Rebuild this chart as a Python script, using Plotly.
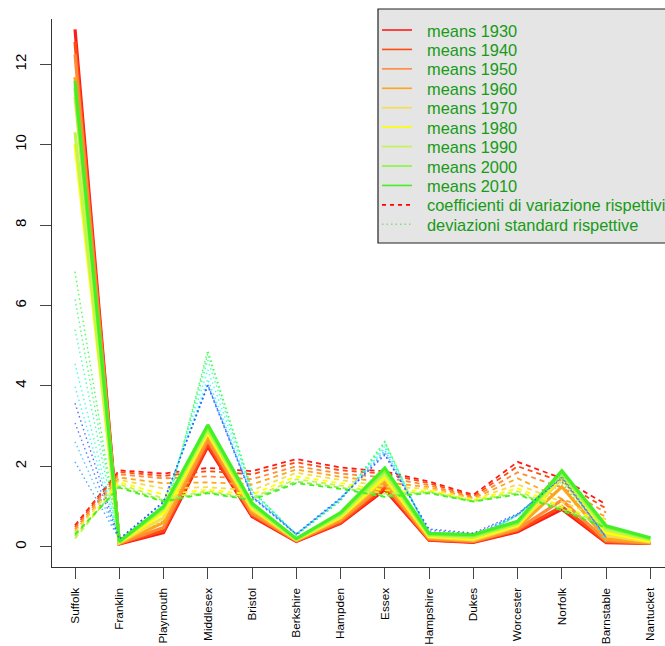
import plotly.graph_objects as go

counties = ["Suffolk", "Franklin", "Playmouth", "Middlesex", "Bristol", "Berkshire",
            "Hampden", "Essex", "Hampshire", "Dukes", "Worcester", "Norfolk",
            "Barnstable", "Nantucket"]
years = ["1930", "1940", "1950", "1960", "1970", "1980", "1990", "2000", "2010"]

# means per year (one list per year, values in county order)
means_1930 = [12.87, 0.07, 0.35, 2.49, 0.75, 0.13, 0.58, 1.42, 0.16, 0.11, 0.37, 0.93, 0.10, 0.08]
means_1940 = [12.56, 0.08, 0.40, 2.55, 0.78, 0.14, 0.60, 1.48, 0.17, 0.12, 0.40, 1.00, 0.12, 0.08]
means_1950 = [12.25, 0.08, 0.48, 2.65, 0.82, 0.15, 0.64, 1.55, 0.19, 0.13, 0.43, 1.16, 0.15, 0.09]
means_1960 = [11.68, 0.09, 0.60, 2.75, 0.88, 0.16, 0.68, 1.62, 0.21, 0.15, 0.47, 1.49, 0.20, 0.10]
means_1970 = [11.19, 0.10, 0.72, 2.82, 0.93, 0.17, 0.72, 1.70, 0.24, 0.17, 0.51, 1.70, 0.28, 0.12]
means_1980 = [10.02, 0.11, 0.85, 2.85, 0.97, 0.18, 0.75, 1.75, 0.26, 0.20, 0.54, 1.76, 0.35, 0.14]
means_1990 = [10.31, 0.12, 0.92, 2.90, 1.00, 0.18, 0.78, 1.82, 0.28, 0.23, 0.57, 1.80, 0.42, 0.17]
means_2000 = [11.40, 0.12, 0.97, 2.97, 1.05, 0.19, 0.82, 1.90, 0.31, 0.27, 0.60, 1.85, 0.48, 0.20]
means_2010 = [11.58, 0.13, 1.00, 3.03, 1.08, 0.20, 0.85, 1.96, 0.33, 0.30, 0.63, 1.89, 0.52, 0.22]

# coefficients of variation (Nantucket missing)
cv_1930 = [0.53, 1.90, 1.82, 1.96, 1.88, 2.18, 1.97, 1.87, 1.62, 1.29, 2.11, 1.70, 1.05, None]
cv_1940 = [0.49, 1.86, 1.76, 1.88, 1.80, 2.10, 1.90, 1.82, 1.58, 1.25, 2.00, 1.62, 0.95, None]
cv_1950 = [0.44, 1.80, 1.70, 1.75, 1.68, 2.00, 1.82, 1.72, 1.53, 1.22, 1.85, 1.47, 0.85, None]
cv_1960 = [0.39, 1.72, 1.58, 1.60, 1.55, 1.92, 1.74, 1.60, 1.48, 1.20, 1.70, 1.19, 0.75, None]
cv_1970 = [0.36, 1.66, 1.45, 1.48, 1.40, 1.84, 1.66, 1.50, 1.44, 1.18, 1.55, 1.11, 0.68, None]
cv_1980 = [0.26, 1.60, 1.30, 1.42, 1.30, 1.75, 1.58, 1.40, 1.40, 1.16, 1.45, 1.01, 0.60, None]
cv_1990 = [0.20, 1.55, 1.20, 1.38, 1.22, 1.68, 1.52, 1.32, 1.37, 1.14, 1.38, 0.97, 0.55, None]
cv_2000 = [0.27, 1.50, 1.15, 1.35, 1.18, 1.62, 1.47, 1.27, 1.35, 1.13, 1.33, 0.93, 0.50, None]
cv_2010 = [0.31, 1.47, 1.12, 1.33, 1.16, 1.58, 1.44, 1.24, 1.33, 1.12, 1.30, 0.90, 0.47, None]

# standard deviations (Nantucket missing)
sd_1930 = [6.84, 0.13, 0.64, 4.88, 1.41, 0.28, 1.14, 2.62, 0.26, 0.14, 0.78, 1.58, 0.11, None]
sd_1940 = [6.15, 0.15, 0.70, 4.80, 1.40, 0.29, 1.14, 2.60, 0.27, 0.15, 0.80, 1.62, 0.11, None]
sd_1950 = [5.40, 0.14, 0.82, 4.64, 1.38, 0.30, 1.16, 2.55, 0.29, 0.16, 0.80, 1.70, 0.13, None]
sd_1960 = [4.55, 0.15, 0.95, 4.40, 1.36, 0.31, 1.18, 2.50, 0.31, 0.18, 0.80, 1.78, 0.15, None]
sd_1970 = [3.98, 0.17, 1.04, 4.17, 1.30, 0.31, 1.20, 2.45, 0.35, 0.20, 0.79, 1.80, 0.19, None]
sd_1980 = [2.61, 0.18, 1.10, 4.05, 1.26, 0.31, 1.18, 2.40, 0.36, 0.23, 0.78, 1.78, 0.21, None]
sd_1990 = [2.11, 0.19, 1.10, 4.00, 1.22, 0.30, 1.19, 2.35, 0.38, 0.26, 0.79, 1.75, 0.23, None]
sd_2000 = [3.08, 0.18, 1.12, 4.01, 1.24, 0.31, 1.20, 2.30, 0.42, 0.31, 0.80, 1.72, 0.24, None]
sd_2010 = [3.57, 0.19, 1.12, 4.03, 1.25, 0.32, 1.22, 2.28, 0.44, 0.34, 0.82, 1.70, 0.24, None]

y_ticks = [0, 2, 4, 6, 8, 10, 12]
legend_labels = ["means " + y for y in years] + ["coefficienti di variazione rispettivi",
                                                  "deviazioni standard rispettive"]

means = [means_1930, means_1940, means_1950, means_1960, means_1970,
         means_1980, means_1990, means_2000, means_2010]
cvs = [cv_1930, cv_1940, cv_1950, cv_1960, cv_1970, cv_1980, cv_1990, cv_2000, cv_2010]
sds = [sd_1930, sd_1940, sd_1950, sd_1960, sd_1970, sd_1980, sd_1990, sd_2000, sd_2010]

mean_cols = ["#FF1A1A", "#FF4A10", "#FF8A3A", "#FFA51A", "#F5DC50",
             "#FFFF00", "#C2F550", "#8AF540", "#44F025"]
sd_cols = ["#33FF33", "#33FF70", "#33FFA8", "#33FFD8", "#33F0FF",
           "#33C8FF", "#3399FF", "#3370FF", "#3355FF"]

W, H = 665, 646
L, R, T, B = 52, 0, 19, 79
pw, ph = W - L - R, H - T - B
xs = list(range(1, len(counties) + 1))

fig = go.Figure()
for i in range(len(years)):
    fig.add_trace(go.Scatter(x=xs, y=means[i], mode="lines", showlegend=False,
                             line=dict(color=mean_cols[i], width=3.2), name="means " + years[i]))
    fig.add_trace(go.Scatter(x=xs, y=cvs[i], mode="lines", showlegend=False,
                             line=dict(color=mean_cols[i], width=1.8, dash="5px,4px"),
                             name="cv " + years[i]))
    fig.add_trace(go.Scatter(x=xs, y=sds[i], mode="lines", showlegend=False, opacity=0.85,
                             line=dict(color=sd_cols[i], width=1.4, dash="1.5px,3px"),
                             name="sd " + years[i]))


def px_x(p):
    return (p - L) / pw


def px_y(p):
    return (H - B - p) / ph


shapes = []
annotations = []
# legend box
shapes.append(dict(type="rect", xref="paper", yref="paper", x0=px_x(378), x1=px_x(720),
                   y0=px_y(243), y1=px_y(9), fillcolor="#E5E5E5",
                   line=dict(color="#222222", width=1.2), layer="above"))
leg_cols = mean_cols + ["#FF0000", "#7FE07F"]
leg_dash = ["solid"] * 9 + ["4px,4px", "1.5px,3px"]
for k, lab in enumerate(legend_labels):
    yy = 30 + k * 19.43
    shapes.append(dict(type="line", xref="paper", yref="paper", x0=px_x(382), x1=px_x(412),
                       y0=px_y(yy), y1=px_y(yy),
                       line=dict(color=leg_cols[k], width=1.6, dash=leg_dash[k]), layer="above"))
    annotations.append(dict(xref="paper", yref="paper", x=px_x(425), y=px_y(yy + 0.5),
                            xanchor="left", yanchor="middle", text=lab, showarrow=False,
                            font=dict(family="Liberation Sans, Arial", size=16.4, color="#169B16")))

fig.update_layout(
    width=W, height=H, margin=dict(l=L, r=R, t=T, b=B, pad=0),
    plot_bgcolor="white", paper_bgcolor="white",
    showlegend=False, shapes=shapes, annotations=annotations,
    font=dict(family="Liberation Sans, Arial", color="black"),
    xaxis=dict(range=[0.48, 14.33], tickmode="array", tickvals=xs, ticktext=counties,
               tickangle=-90, ticks="outside", ticklen=11, tickcolor="#444",
               showline=True, linecolor="#333", linewidth=1.2, mirror=False,
               showgrid=False, zeroline=False, tickfont=dict(size=11.8),
               automargin=False, ticklabelstandoff=4),
    yaxis=dict(range=[-0.505, 13.127], tickmode="array", tickvals=y_ticks,
               ticktext=[str(v) for v in y_ticks], tickangle=-90,
               ticks="outside", ticklen=11, tickcolor="#444",
               showline=True, linecolor="#333", linewidth=1.2,
               showgrid=False, zeroline=False, tickfont=dict(size=15),
               ticklabelstandoff=8, automargin=False),
)
fig.write_html("out.html")
